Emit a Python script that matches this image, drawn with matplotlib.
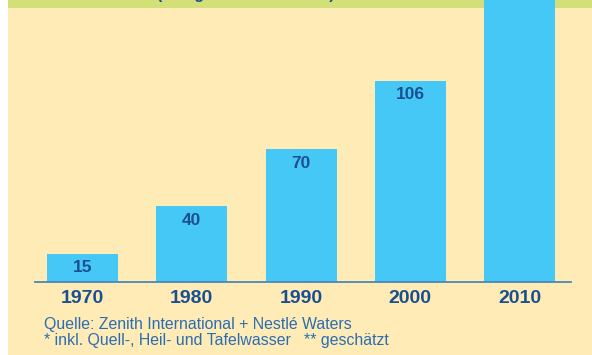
import matplotlib
matplotlib.use("Agg")
import matplotlib.pyplot as plt
from matplotlib.patches import Rectangle

# ---- data ----
years = ["1970", "1980", "1990", "2000", "2010"]
values = [15, 40, 70, 106, 185]          # 2010 value is cut off in the reference (estimated)
value_labels = ["15", "40", "70", "106", "185"]
title_text = "(Mengen in Mrd. Litern)"
source_line1 = "Quelle: Zenith International + Nestlé Waters"
source_line2 = "* inkl. Quell-, Heil- und Tafelwasser   ** geschätzt"

# ---- style ----
BEIGE = "#feebb6"
GREEN = "#d3e077"
BAR = "#45c8f5"
DARK = "#1b4f8f"
SRC = "#2c6db2"
AXIS = "#4d87b5"
plt.rcParams["font.family"] = ["Liberation Sans", "DejaVu Sans"]

W, H = 592, 355
fig = plt.figure(figsize=(W / 100, H / 100), dpi=100)
fig.patch.set_facecolor("white")

# background panels
fig.patches.append(Rectangle((8 / W, 0), 1 - 8 / W, 1, transform=fig.transFigure,
                             facecolor=BEIGE, edgecolor="none", zorder=-10))
fig.patches.append(Rectangle((8 / W, (H - 8) / H), 1 - 8 / W, 8 / H, transform=fig.transFigure,
                             facecolor=GREEN, edgecolor="none", zorder=-9))

# clipped title (only descenders visible)
fig.text(157 / W, (H + 1) / H, title_text, ha="left", va="baseline",
         fontsize=11.5, fontweight="bold", color=DARK, zorder=-8)

ax_left, ax_right = 35, 571
ax_bottom = 282
ax = fig.add_axes([ax_left / W, (H - ax_bottom) / H, (ax_right - ax_left) / W, ax_bottom / H])
ax.patch.set_alpha(0)
ax.set_zorder(1)

x = list(range(len(years)))
ax.bar(x, values, width=0.65, color=BAR, zorder=2)
ax.set_xlim(-0.435, 4.471)
ax.set_ylim(0, ax_bottom / 1.9)

for xi, v, lab in zip(x, values, value_labels):
    ax.annotate(lab, (xi, v), xytext=(0, -10.2), textcoords="offset points",
                ha="center", va="center", fontsize=12.5, fontweight="bold", color=DARK)

for s in ["top", "left", "right"]:
    ax.spines[s].set_visible(False)
ax.spines["bottom"].set_color(AXIS)
ax.spines["bottom"].set_linewidth(1.3)
ax.spines["bottom"].set_zorder(3)
ax.set_yticks([])
ax.set_xticks(x)
ax.set_xticklabels(years, fontsize=14, fontweight="bold", color=DARK)
ax.tick_params(axis="x", length=0, pad=6)

fig.text(44 / W, (H - 329) / H, source_line1, ha="left", va="baseline",
         fontsize=11.4, color=SRC)
fig.text(44 / W, (H - 345.5) / H, source_line2, ha="left", va="baseline",
         fontsize=11.4, color=SRC)

fig.savefig("out.png", dpi=100)
